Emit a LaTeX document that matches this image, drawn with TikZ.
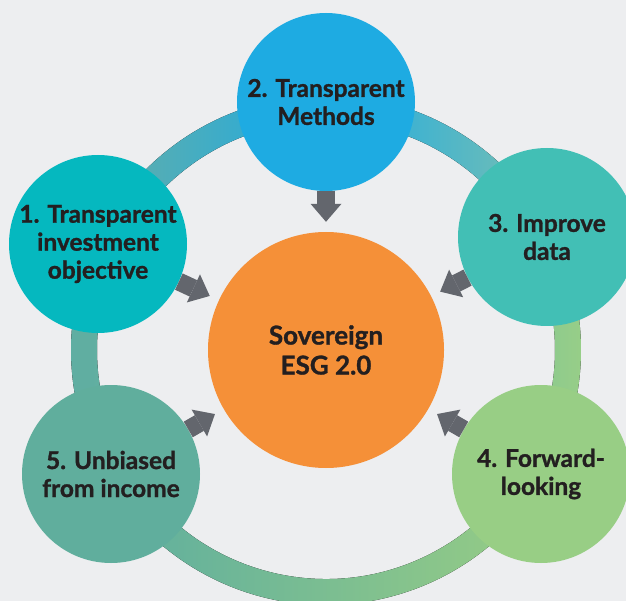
\documentclass[tikz,border=0pt]{standalone}
\usepackage{fontspec}
\setmainfont{Lato}[BoldFeatures={FakeBold=1.2}]
\usetikzlibrary{arrows.meta}
\definecolor{bg}{HTML}{EDEEF0}
\definecolor{txt}{HTML}{231F20}
\definecolor{arr}{HTML}{63666D}
\definecolor{cA}{HTML}{05B8BF}
\definecolor{cB}{HTML}{1EABE2}
\definecolor{cC}{HTML}{42BFB5}
\definecolor{cD}{HTML}{98CE85}
\definecolor{cE}{HTML}{60AE9D}
\definecolor{cO}{HTML}{F59038}
\definecolor{sAl}{HTML}{64AEA8}
\definecolor{sBr}{HTML}{7CC0B0}
\definecolor{sCl}{HTML}{88C891}
\definecolor{sCr}{HTML}{9ACF86}
\definecolor{sDl}{HTML}{5EAE9F}
\definecolor{sDr}{HTML}{98CD84}
\definecolor{sEl}{HTML}{5FAEA2}
\definecolor{sEr}{HTML}{62AFA0}
\begin{document}
\begin{tikzpicture}[x=1pt,y=-1pt,
  bubble/.style={circle, inner sep=0pt, minimum size=178pt, text=txt, align=center,
    font=\fontsize{24.5}{28}\selectfont\bfseries},
  pointer/.style={draw=arr, line width=18pt, shorten >=10pt,
    -{Triangle[length=18pt,width=31pt,line width=0pt]}}]
\fill[bg] (0,0) rectangle (626,601);
\useasboundingbox (0,0) rectangle (626,601);
% ring segments
\begin{scope}[shift={(326,350)}]
\fill[left color=sAl, right color=cB]
  (-155:255) arc[start angle=-155,end angle=-90,radius=255] -- (-90:229)
  arc[start angle=-90,end angle=-155,radius=229] -- cycle;
\fill[left color=cB, right color=sBr]
  (-90:255) arc[start angle=-90,end angle=-27,radius=255] -- (-27:229)
  arc[start angle=-27,end angle=-90,radius=229] -- cycle;
\fill[left color=sCl, right color=sCr]
  (-27:255) arc[start angle=-27,end angle=30,radius=255] -- (30:229)
  arc[start angle=30,end angle=-27,radius=229] -- cycle;
\fill[left color=sDl, right color=sDr]
  (30:255) arc[start angle=30,end angle=150,radius=255] -- (150:229)
  arc[start angle=150,end angle=30,radius=229] -- cycle;
\fill[left color=sEl, right color=sEr]
  (150:255) arc[start angle=150,end angle=205,radius=255] -- (205:229)
  arc[start angle=205,end angle=150,radius=229] -- cycle;
\end{scope}
% circles
\node[bubble, fill=cB] (c2) at (326,102) {2. Transparent\\Methods};
\node[bubble, fill=cA] (c1) at (98,244) {1. Transparent\\investment\\objective};
\node[bubble, fill=cC] (c3) at (547,237) {3. Improve\\data};
\node[bubble, fill=cD] (c4) at (541,474) {4. Forward-\\looking};
\node[bubble, fill=cE] (c5) at (111,474) {5. Unbiased\\from income};
\node[bubble, fill=cO, minimum size=236pt, font=\fontsize{26}{30}\selectfont\bfseries] (core) at (326,350) {Sovereign\\ESG 2.0};
% arrows
\foreach \s in {c1,c2,c3,c4,c5}
  \draw[pointer] (\s) -- (core);
\end{tikzpicture}
\end{document}
